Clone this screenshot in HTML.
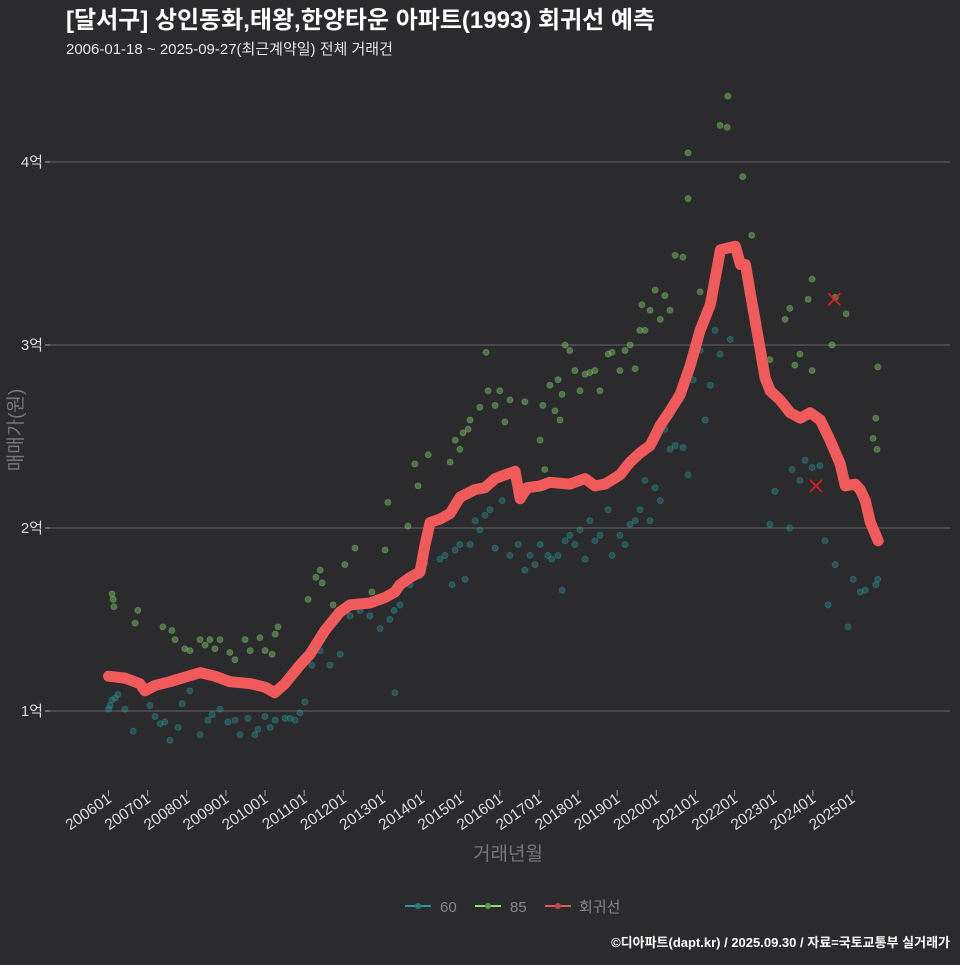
<!DOCTYPE html>
<html><head><meta charset="utf-8">
<style>
body{margin:0;background:#2b2b2d;}
svg text{font-family:"Liberation Sans","Noto Sans CJK KR",sans-serif;}
</style></head>
<body>
<svg id="chart" width="960" height="960" xmlns="http://www.w3.org/2000/svg">
<rect width="960" height="960" fill="#2b2b2d"/>
<text x="66" y="28" fill="#ffffff" font-size="24" font-weight="bold">[달서구] 상인동화,태왕,한양타운 아파트(1993) 회귀선 예측</text>
<text x="66" y="54" fill="#e8e8e8" font-size="15">2006-01-18 ~ 2025-09-27(최근계약일) 전체 거래건</text>
<g id="grid"></g><g id="pts60"></g><g id="pts85"></g><g id="reg"></g><g id="marks"></g><g id="axes"></g>
<text transform="translate(22,430) rotate(-90)" text-anchor="middle" fill="#777" font-size="19">매매가(원)</text>
<text x="508" y="860" text-anchor="middle" fill="#777" font-size="19">거래년월</text>
<g>
 <g><line x1="405" y1="906" x2="431" y2="906" stroke="#2a9a98" stroke-width="2"/><circle cx="418" cy="906" r="3" fill="#2a7a78"/><text x="440" y="912" fill="#888" font-size="15">60</text></g>
 <g><line x1="475" y1="906" x2="501" y2="906" stroke="#88e070" stroke-width="2"/><circle cx="488" cy="906" r="3" fill="#5d9a50"/><text x="510" y="912" fill="#888" font-size="15">85</text></g>
 <g><line x1="545" y1="906" x2="571" y2="906" stroke="#e05a5a" stroke-width="2"/><circle cx="558" cy="906" r="3" fill="#b04848"/><text x="579" y="912" fill="#888" font-size="15">회귀선</text></g>
</g>
<text x="950" y="947" text-anchor="end" fill="#fff" font-size="13" font-weight="bold">©디아파트(dapt.kr) / 2025.09.30 / 자료=국토교통부 실거래가</text>
</svg>
<script>
const yTicks=[1,2,3,4];
const yTickLabels=['1억','2억','3억','4억'];
const xTickYears=[2006,2007,2008,2009,2010,2011,2012,2013,2014,2015,2016,2017,2018,2019,2020,2021,2022,2023,2024,2025];
const xTickLabels=['200601','200701','200801','200901','201001','201101','201201','201301','201401','201501','201601','201701','201801','201901','202001','202101','202201','202301','202401','202501'];
const regT=[2006.0,2006.42,2006.80,2006.93,2007.19,2007.57,2008.34,2008.72,2009.10,2009.62,2010.0,2010.25,2010.51,2010.89,2011.15,2011.53,2011.91,2012.17,2012.68,2013.07,2013.32,2013.45,2013.71,2013.96,2014.09,2014.22,2014.48,2014.73,2014.99,2015.37,2015.62,2015.88,2016.13,2016.39,2016.52,2016.70,2017.03,2017.28,2017.79,2018.18,2018.43,2018.69,2019.07,2019.33,2019.58,2019.84,2020.10,2020.35,2020.61,2020.87,2021.12,2021.38,2021.64,2022.02,2022.15,2022.28,2022.39,2022.66,2022.78,2022.91,2023.16,2023.42,2023.68,2023.93,2024.19,2024.44,2024.70,2024.83,2025.08,2025.21,2025.34,2025.47,2025.67];
const regV=[1.19,1.18,1.15,1.11,1.14,1.16,1.21,1.19,1.16,1.15,1.13,1.10,1.15,1.25,1.31,1.44,1.54,1.58,1.59,1.62,1.65,1.69,1.73,1.76,1.91,2.03,2.05,2.08,2.17,2.21,2.22,2.27,2.29,2.31,2.16,2.22,2.23,2.25,2.24,2.27,2.23,2.24,2.29,2.36,2.41,2.45,2.56,2.64,2.73,2.89,3.08,3.22,3.52,3.54,3.44,3.44,3.30,2.97,2.82,2.75,2.70,2.63,2.60,2.63,2.59,2.48,2.35,2.23,2.24,2.21,2.15,2.03,1.93];
const t85=[2006.09,2006.12,2006.14,2006.75,2006.68,2007.39,2007.62,2007.70,2007.95,2008.08,2008.34,2008.47,2008.59,2008.72,2008.85,2009.10,2009.23,2009.49,2009.62,2009.87,2010.00,2010.18,2010.26,2010.33,2011.10,2011.30,2011.41,2011.46,2011.74,2012.04,2012.30,2012.73,2013.07,2013.14,2013.63,2013.65,2013.83,2013.91,2014.17,2014.73,2014.86,2014.98,2015.06,2015.19,2015.24,2015.49,2015.65,2015.70,2015.88,2016.00,2016.13,2016.26,2016.64,2017.03,2017.10,2017.15,2017.28,2017.41,2017.49,2017.54,2017.59,2017.67,2017.79,2017.92,2018.05,2018.18,2018.30,2018.43,2018.56,2018.77,2018.87,2019.07,2019.20,2019.33,2019.46,2019.58,2019.63,2019.71,2019.84,2019.97,2020.10,2020.22,2020.35,2020.48,2020.68,2020.81,2020.81,2021.12,2021.63,2021.81,2021.83,2022.21,2022.44,2022.90,2023.29,2023.41,2023.54,2023.67,2023.88,2023.98,2023.98,2024.49,2024.57,2024.85,2025.54,2025.61,2025.64,2025.66];
const v85=[1.64,1.61,1.57,1.55,1.48,1.46,1.44,1.39,1.34,1.33,1.39,1.36,1.39,1.34,1.39,1.32,1.28,1.39,1.33,1.40,1.33,1.31,1.42,1.46,1.61,1.73,1.77,1.70,1.58,1.80,1.89,1.65,1.88,2.14,1.73,2.01,2.35,2.23,2.40,2.36,2.48,2.43,2.52,2.54,2.59,2.66,2.96,2.75,2.67,2.75,2.58,2.70,2.69,2.48,2.67,2.32,2.78,2.64,2.81,2.59,2.73,3.00,2.97,2.86,2.75,2.84,2.85,2.86,2.75,2.95,2.96,2.86,2.97,3.00,2.87,3.08,3.22,3.08,3.19,3.30,3.14,3.27,3.19,3.49,3.48,4.05,3.80,3.29,4.20,4.19,4.36,3.92,3.60,2.92,3.14,3.20,2.89,2.95,3.25,3.36,2.86,3.00,3.26,3.17,2.49,2.60,2.43,2.88];
const t60=[2006.00,2006.04,2006.09,2006.17,2006.24,2006.42,2006.63,2007.06,2007.19,2007.32,2007.44,2007.57,2007.78,2007.88,2008.08,2008.34,2008.54,2008.65,2008.85,2009.05,2009.23,2009.36,2009.56,2009.74,2009.82,2010.00,2010.13,2010.26,2010.51,2010.64,2010.77,2010.89,2011.02,2011.20,2011.41,2011.66,2011.92,2012.17,2012.43,2012.68,2012.94,2013.19,2013.30,2013.32,2013.45,2013.71,2013.96,2014.09,2014.47,2014.60,2014.78,2014.86,2014.98,2015.11,2015.24,2015.37,2015.49,2015.62,2015.75,2015.88,2016.06,2016.26,2016.47,2016.64,2016.77,2016.90,2017.03,2017.23,2017.33,2017.49,2017.59,2017.67,2017.79,2017.92,2018.05,2018.18,2018.30,2018.43,2018.56,2018.77,2018.87,2019.07,2019.20,2019.33,2019.46,2019.58,2019.71,2019.84,2019.97,2020.10,2020.22,2020.35,2020.48,2020.61,2020.68,2020.81,2020.94,2021.12,2021.25,2021.38,2021.50,2021.63,2021.89,2022.90,2023.03,2023.41,2023.47,2023.67,2023.80,2023.98,2024.18,2024.31,2024.39,2024.57,2024.90,2025.03,2025.21,2025.34,2025.61,2025.66];
const v60=[1.01,1.03,1.06,1.07,1.09,1.01,0.89,1.03,0.97,0.93,0.94,0.84,0.91,1.04,1.11,0.87,0.95,0.98,1.01,0.94,0.95,0.87,0.96,0.87,0.90,0.97,0.91,0.95,0.96,0.96,0.95,0.99,1.05,1.25,1.33,1.25,1.31,1.52,1.55,1.52,1.45,1.50,1.55,1.10,1.58,1.69,1.74,1.81,1.83,1.85,1.69,1.88,1.91,1.72,1.91,2.04,1.99,2.07,2.10,1.89,2.15,1.85,1.91,1.77,1.85,1.80,1.91,1.85,1.83,1.85,1.66,1.93,1.96,1.91,1.99,1.83,2.04,1.93,1.96,2.10,1.85,1.96,1.91,2.02,2.04,2.10,2.26,2.04,2.22,2.15,2.54,2.43,2.45,2.70,2.44,2.29,2.81,2.97,2.59,2.78,3.08,2.95,3.03,2.02,2.20,2.00,2.32,2.26,2.37,2.33,2.34,1.93,1.58,1.80,1.46,1.72,1.65,1.66,1.69,1.72];
const outT=[2024.08,2024.55];
const outV=[2.23,3.25];

const NS='http://www.w3.org/2000/svg';
const X=t=>108.5+(t-2006)*39.13;
const Y=v=>711-(v-1)*183;
function mk(tag,parent,attrs){const e=document.createElementNS(NS,tag);for(const k in attrs)e.setAttribute(k,attrs[k]);document.getElementById(parent).appendChild(e);return e;}
yTicks.forEach((v,i)=>{
  let l=mk('line','grid',{x1:50,x2:950,y1:Y(v),y2:Y(v),stroke:'#666','stroke-width':1});
  
  
  let tk=mk('line','axes',{x1:45,x2:50,y1:Y(v),y2:Y(v),stroke:'#aaa'});
  
  
  let t=mk('text','axes',{x:43,y:Y(v)+5,'text-anchor':'end',fill:'#ddd','font-size':15});
  t.textContent=yTickLabels[i];
  
  
});
xTickYears.forEach((yr,i)=>{
  const x=X(yr);
  let tk=mk('line','axes',{x1:x,x2:x,y1:790,y2:796,stroke:'#aaa'});
  
  
  let t=mk('text','axes',{transform:`translate(${x+4},${801}) rotate(-35)`,'text-anchor':'end',fill:'#ddd','font-size':15.5});
  t.textContent=xTickLabels[i];
  
  
});
t60.forEach((t,i)=>{
  let c=mk('circle','pts60',{cx:X(t),cy:Y(v60[i]),r:3,fill:'#2a8a88','fill-opacity':0.45,stroke:'#2fa6a2','stroke-opacity':0.35});
  
  
});
t85.forEach((t,i)=>{
  let c=mk('circle','pts85',{cx:X(t),cy:Y(v85[i]),r:3,fill:'#6fae5e','fill-opacity':0.55,stroke:'#88d070','stroke-opacity':0.35});
  
  
});
let d=regT.map((t,i)=>(i?'L':'M')+X(t).toFixed(1)+','+Y(regV[i]).toFixed(1)).join(' ');
let p=mk('path','reg',{d:d,fill:'none',stroke:'#f05a5a','stroke-width':11,'stroke-linejoin':'round','stroke-linecap':'round'});


outT.forEach((t,i)=>{
  const x=X(t),y=Y(outV[i]);
  let g=mk('path','marks',{d:`M${x-6},${y-6}L${x+6},${y+6}M${x-6},${y+6}L${x+6},${y-6}`,stroke:'#d42020','stroke-width':1.8});
  
  
});
</script>
</body></html>
